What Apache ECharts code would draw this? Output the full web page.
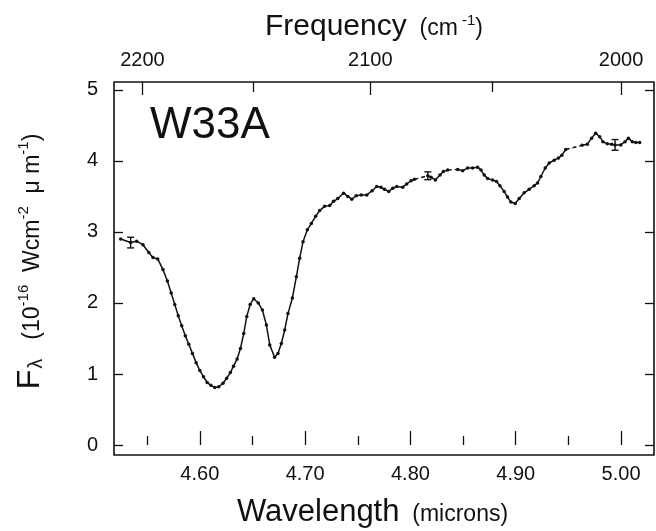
<!DOCTYPE html>
<html><head><meta charset="utf-8">
<script src="https://cdn.jsdelivr.net/npm/echarts@6/dist/echarts.min.js"></script>
<style>html,body{margin:0;padding:0;background:#fff}#c{width:656px;height:531px}</style>
</head><body><div id="c"></div>
<script>
// ---- data (wavelength in microns, flux in 1e-16 W cm^-2 um^-1) ----
const wavelength = [
4.5248,4.5343,4.5400,4.5460,4.5515,4.5555,4.5600,4.5650,4.5692,4.5728,
4.5762,4.5795,4.5828,4.5862,4.5895,4.5930,4.5965,4.6000,4.6035,4.6070,
4.6105,4.6142,4.6180,4.6220,4.6255,4.6290,4.6320,4.6354,4.6386,4.6417,
4.6446,4.6478,4.6512,4.6555,4.6594,4.6632,4.6664,4.6710,4.6742,4.6774,
4.6806,4.6837,4.6879,4.6917,4.6948,4.6980,4.7021,4.7059,4.7100,4.7138,
4.7185,4.7233,4.7270,4.7310,4.7365,4.7406,4.7443,4.7485,4.7533,4.7586,
4.7636,4.7680,4.7720,4.7753,4.7794,4.7832,4.7870,4.7927,4.7965,4.8006,
4.8038,4.8165,4.8196,4.8237,4.8281,4.8313,4.8354,4.8449,4.8496,4.8543,
4.8590,4.8638,4.8670,4.8701,4.8733,4.8780,4.8818,4.8850,4.8890,4.8922,
4.8954,4.8995,4.9033,4.9080,4.9128,4.9175,4.9207,4.9239,4.9280,4.9318,
4.9365,4.9406,4.9438,4.9475,4.9630,4.9680,4.9720,4.9759,4.9797,4.9828,
4.9869,4.9911,4.9943,4.9997,5.0038,5.0070,5.0107,5.0140,5.0177];
const flux = [
2.90,2.85,2.87,2.82,2.71,2.64,2.62,2.47,2.31,2.14,
1.98,1.82,1.68,1.54,1.42,1.29,1.16,1.05,0.96,0.88,
0.84,0.81,0.82,0.87,0.94,1.02,1.11,1.21,1.36,1.57,
1.81,1.98,2.06,2.00,1.90,1.69,1.41,1.235,1.29,1.43,
1.62,1.85,2.07,2.37,2.63,2.86,3.03,3.12,3.22,3.30,
3.36,3.37,3.43,3.47,3.545,3.50,3.46,3.51,3.52,3.52,
3.58,3.64,3.63,3.60,3.57,3.615,3.64,3.63,3.675,3.72,
3.74,3.79,3.77,3.73,3.80,3.85,3.87,3.88,3.86,3.90,
3.90,3.91,3.87,3.80,3.75,3.73,3.71,3.65,3.57,3.49,
3.42,3.40,3.47,3.55,3.60,3.65,3.69,3.78,3.90,3.97,
4.01,4.04,4.08,4.16,4.22,4.235,4.32,4.39,4.34,4.27,
4.24,4.235,4.225,4.225,4.27,4.32,4.27,4.26,4.26];
// wavelengths after which the trace is bridged by a dashed line (data gaps)
const dashedAfter = [4.8038, 4.8354, 4.9475];
// error bars
const errWavelength = [4.5343, 4.8165, 4.9943];
const errFlux = [2.85, 3.79, 4.225];
const errHalf = [0.075, 0.055, 0.075];
// ticks
const waveTicks = [4.60, 4.70, 4.80, 4.90, 5.00];
const waveMinorTicks = [4.55, 4.65, 4.75, 4.85, 4.95];
const freqTicks = [2200, 2100, 2000];
const freqMinorTicks = [2150, 2050];
const fluxTicks = [0, 1, 2, 3, 4, 5];
const X_MIN = 4.5185, X_MAX = 5.0313, Y_MIN = -0.14, Y_MAX = 5.11;

// ---- build ----
const INK = '#111';
const FONT = 'Liberation Sans';
const gapIdx = dashedAfter.map(w => wavelength.indexOf(w));
const solidSeries = [];
const dashedSeries = [];
let seg = [];
for (let i = 0; i < wavelength.length; i++) {
  seg.push([wavelength[i], flux[i]]);
  if (gapIdx.includes(i)) {
    solidSeries.push(seg); seg = [];
    dashedSeries.push([[wavelength[i], flux[i]], [wavelength[i + 1], flux[i + 1]]]);
  }
}
solidSeries.push(seg);

const series = [];
solidSeries.forEach(d => series.push({
  type: 'line', data: d, xAxisIndex: 0, yAxisIndex: 0,
  symbol: 'circle', symbolSize: 3.5, showSymbol: true,
  itemStyle: { color: INK }, lineStyle: { color: INK, width: 1.5 },
  animation: false, silent: true
}));
dashedSeries.forEach(d => series.push({
  type: 'line', data: d, xAxisIndex: 0, yAxisIndex: 0, symbol: 'none',
  lineStyle: { color: INK, width: 1.4, type: [4, 3] }, animation: false, silent: true
}));
series.push({
  type: 'custom', xAxisIndex: 0, yAxisIndex: 0, animation: false, silent: true,
  data: errWavelength.map((w, i) => [w, errFlux[i], errHalf[i]]),
  renderItem: function (params, api) {
    const x = api.value(0), y = api.value(1), e = api.value(2);
    const t = api.coord([x, y + e]), b = api.coord([x, y - e]);
    const st = { stroke: INK, lineWidth: 1.4 };
    return { type: 'group', children: [
      { type: 'line', shape: { x1: t[0], y1: t[1], x2: b[0], y2: b[1] }, style: st },
      { type: 'line', shape: { x1: t[0] - 3.5, y1: t[1], x2: t[0] + 3.5, y2: t[1] }, style: st },
      { type: 'line', shape: { x1: b[0] - 3.5, y1: b[1], x2: b[0] + 3.5, y2: b[1] }, style: st }
    ]};
  }
});

const tickStyle = { color: INK, width: 1.3 };
const labelBase = { color: INK, fontFamily: FONT, fontSize: 20 };
function xAx(pos, ticks, len, labels, extra) {
  return Object.assign({
    type: 'value', position: pos, min: X_MIN, max: X_MAX,
    axisLine: { show: false }, splitLine: { show: false },
    axisTick: { show: true, inside: true, length: len, lineStyle: tickStyle, customValues: ticks },
    axisLabel: labels ? Object.assign({ show: true, customValues: ticks }, labelBase, labels) : { show: false }
  }, extra || {});
}
function yAx(pos, labels, extra) {
  return Object.assign({
    type: 'value', position: pos, min: Y_MIN, max: Y_MAX,
    axisLine: { show: false }, splitLine: { show: false },
    axisTick: { show: true, inside: true, length: 9, lineStyle: tickStyle, customValues: fluxTicks },
    axisLabel: labels ? Object.assign({ show: true, customValues: fluxTicks }, labelBase, labels) : { show: false }
  }, extra || {});
}
function rs(size, va, pad) {
  return { fontFamily: FONT, fontSize: size, fontWeight: 'normal', color: INK, verticalAlign: va, padding: pad || 0 };
}

const chart = echarts.init(document.getElementById('c'), null, { renderer: 'canvas' });
chart.setOption({
  backgroundColor: '#fff',
  animation: false,
  title: {
    text: '{a|Frequency}{b|  (cm}{s| -1}{b|)}',
    left: 265, top: 8, padding: 0,
    textStyle: { fontWeight: 'normal', rich: {
      a: Object.assign(rs(30, 'bottom'), { lineHeight: 34 }),
      b: rs(23, 'bottom', [0, 0, 2, 0]),
      s: rs(15, 'top', [5, 0, 0, 0])
    } }
  },
  grid: { left: 114, right: 2, top: 82, bottom: 76, show: true, borderColor: INK, borderWidth: 1.6, containLabel: false, outerBoundsMode: 'none' },
  xAxis: [
    xAx('bottom', waveTicks, 14, { margin: 9, formatter: v => v.toFixed(2) }, {
      name: '{a|Wavelength}{b|  (microns)}', nameLocation: 'middle', nameGap: 38,
      nameTextStyle: { padding: [0, 23, 0, 0], rich: {
        a: Object.assign(rs(31, 'bottom'), { lineHeight: 35 }),
        b: rs(23, 'bottom', [0, 0, 2, 0])
      } }
    }),
    xAx('bottom', waveMinorTicks, 9, null),
    xAx('top', freqTicks.map(f => 10000 / f), 13, { margin: 12, formatter: v => String(Math.round(10000 / v)) }),
    xAx('top', freqMinorTicks.map(f => 10000 / f), 10, null)
  ],
  yAxis: [
    yAx('left', { margin: 16 }, {
      name: '{F|F}{l|λ}{b|   (10}{s|-16}{b|  Wcm}{s|-2}{b|  μ m}{s|-1}{b|)}',
      nameLocation: 'middle', nameRotate: 90, nameGap: 68,
      nameTextStyle: { padding: [0, 0, 0, 14], rich: {
        F: Object.assign(rs(32, 'bottom'), { lineHeight: 36 }),
        l: rs(20, 'bottom', [0, 0, 0, 1]),
        b: rs(23, 'bottom', [0, 0, 2, 0]),
        s: rs(15, 'top', [6, 0, 0, 0])
      } }
    }),
    yAx('right', null)
  ],
  graphic: [{
    type: 'text', left: 150, top: 104,
    style: { text: 'W33A', font: '44px "Liberation Sans"', fill: INK }
  }],
  series: series
});
</script></body></html>
